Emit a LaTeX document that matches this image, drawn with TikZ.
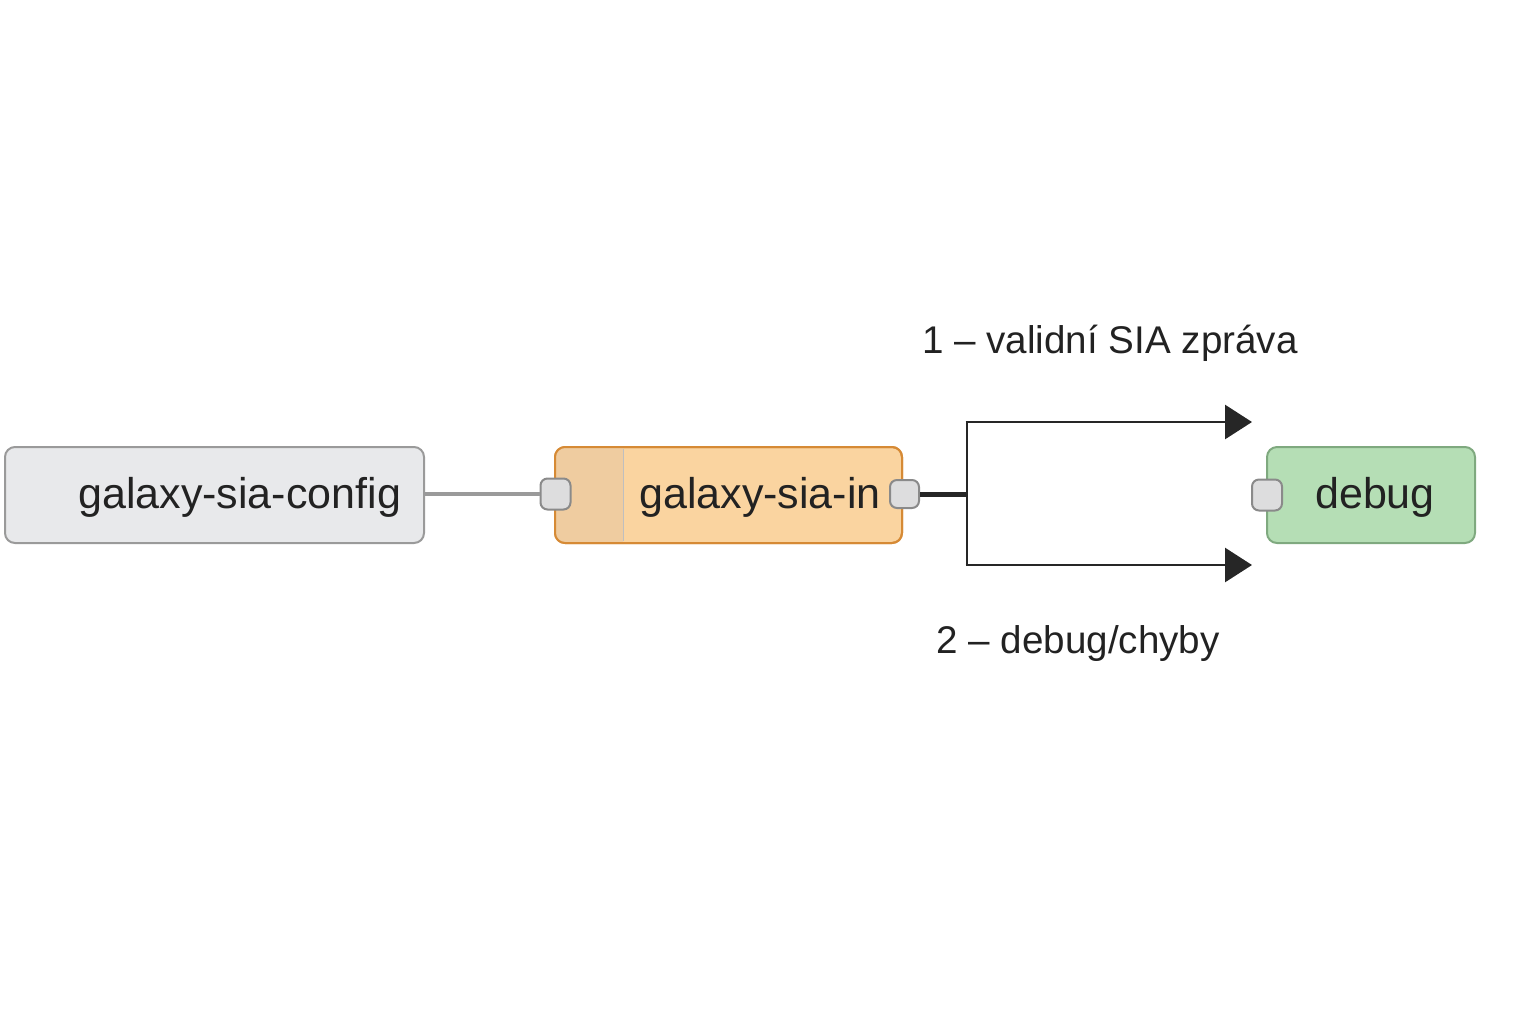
\documentclass[tikz,border=0pt]{standalone}
\usepackage{fontspec}
\setmainfont{Liberation Sans}
\usetikzlibrary{arrows.meta}
\definecolor{txt}{HTML}{222222}
\definecolor{cfgfill}{HTML}{E8E9EB}
\definecolor{cfgdraw}{HTML}{9A9A9A}
\definecolor{infill}{HTML}{FAD4A0}
\definecolor{indraw}{HTML}{D68A35}
\definecolor{iconfill}{HTML}{EFCCA0}
\definecolor{dbgfill}{HTML}{B5DEB5}
\definecolor{dbgdraw}{HTML}{7FA97F}
\definecolor{portfill}{HTML}{DDDDDE}
\definecolor{portdraw}{HTML}{8A8A8A}
\definecolor{wire}{HTML}{262626}
\tikzset{
  nodebox/.style={rounded corners=5pt, line width=1pt, inner sep=0pt, text=txt,
    font=\fontsize{21.5}{26}\selectfont},
  portbox/.style={rounded corners=3.5pt, fill=portfill, draw=portdraw, line width=1pt,
    minimum width=15pt, minimum height=15.5pt, inner sep=0pt},
  lbl/.style={text=txt, font=\fontsize{19.3}{23}\selectfont, inner sep=0pt},
  branch/.style={draw=wire, line width=1.4pt, -{Triangle[length=13.5pt,width=17pt]}}
}
\begin{document}
\begin{tikzpicture}[x=0.5pt,y=-0.5pt]
\useasboundingbox (0,0) rectangle (1536,1024);
% config node
\node[nodebox, fill=cfgfill, draw=cfgdraw, minimum width=209.5pt, minimum height=48pt] (cfg) at (214.5,495) {};
\node[nodebox, anchor=east] (cfgt) at (402,497) {galaxy-sia-config};
% in node
\node[nodebox, fill=infill, draw=indraw, minimum width=173.5pt, minimum height=48pt] (in) at (728.5,495) {};
\begin{scope}
\clip[rounded corners=5pt] (555.5,447.5) rectangle (901.5,542.5);
\fill[iconfill] (555,447) rectangle (623,543);
\end{scope}
\draw[indraw, line width=1pt, rounded corners=5pt] (555,447) rectangle (902,543);
\draw[draw=black!25, line width=0.5pt] (623,449) -- (623,541);
\node[nodebox] (int) at (760,497) {galaxy-sia-in};
% debug node
\node[nodebox, fill=dbgfill, draw=dbgdraw, minimum width=104pt, minimum height=48pt] (dbg) at (1371,495) {};
\node[nodebox] (dbgt) at (1375,497) {debug};
% ports
\node[portbox] (pin) at (555.5,494) {};
\node[portbox, minimum width=14.5pt, minimum height=14pt] (pout) at (904.5,494) {};
\node[portbox] (pdbg) at (1267,495) {};
% config link
\draw[cfgdraw, line width=2pt] (cfg.east |- 0,494) -- (pin.west |- 0,494);
% output wire
\coordinate (j) at (967,494);
\coordinate (j1) at (967,422);
\coordinate (j2) at (967,565);
\coordinate (e1) at (1252,422);
\coordinate (e2) at (1252,565);
\draw[wire, line width=2.5pt] (pout.east) -- (j);
\draw[wire, line width=1.4pt] (j1) -- (j2);
\draw[branch] ([xshift=-0.7pt]j1) -- (e1);
\draw[branch] ([xshift=-0.7pt]j2) -- (e2);
% labels
\node[lbl] (l1) at (1110,343) {1 – validní SIA zpráva};
\node[lbl] (l2) at (1078,644) {2 – debug/chyby};
\end{tikzpicture}
\end{document}
